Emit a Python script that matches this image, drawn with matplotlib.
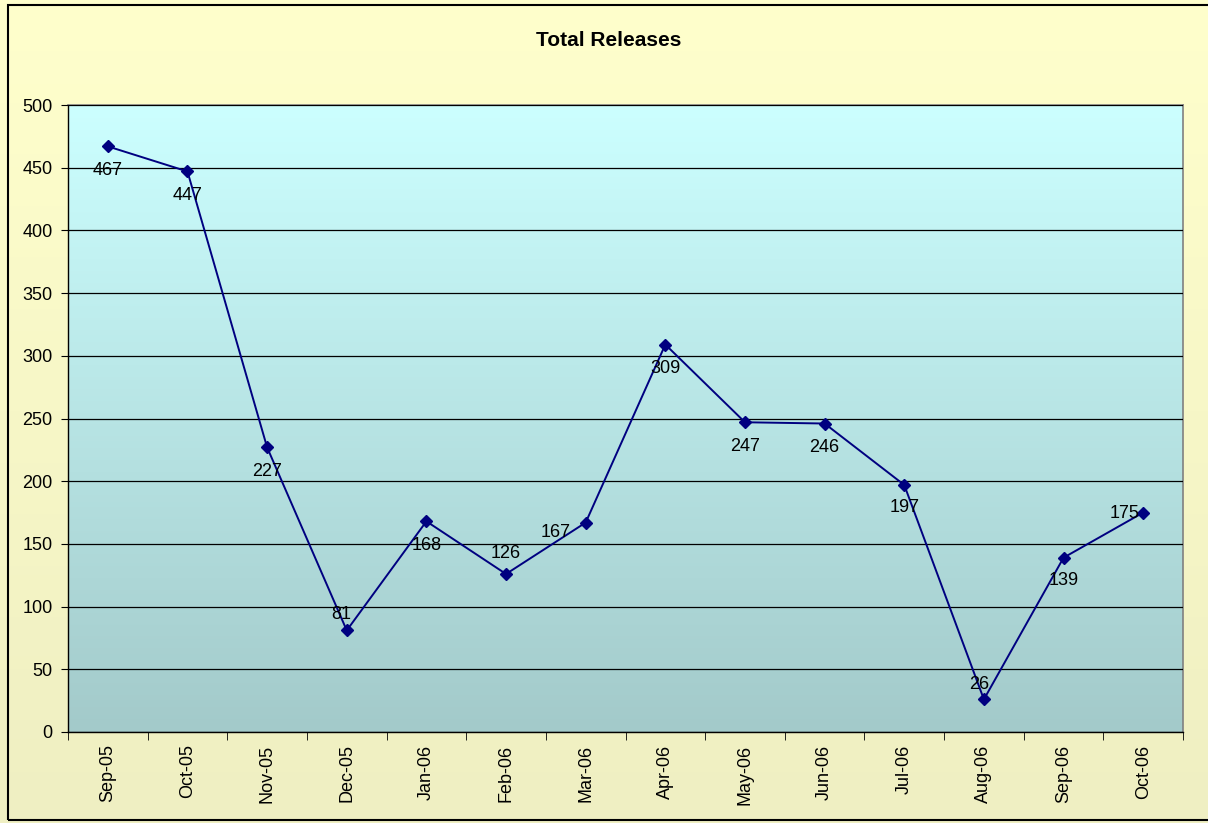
import numpy as np
import matplotlib
matplotlib.use("Agg")
import matplotlib.pyplot as plt
from matplotlib.patches import Rectangle
from matplotlib.colors import LinearSegmentedColormap

months = ["Sep-05", "Oct-05", "Nov-05", "Dec-05", "Jan-06", "Feb-06", "Mar-06",
          "Apr-06", "May-06", "Jun-06", "Jul-06", "Aug-06", "Sep-06", "Oct-06"]
releases = [467, 447, 227, 81, 168, 126, 167, 309, 247, 246, 197, 26, 139, 175]
yticks = [0, 50, 100, 150, 200, 250, 300, 350, 400, 450, 500]

# label placement (offsets in pixels from point to label centre)
label_offsets = {0: (0, -24), 1: (0, -24), 2: (0, -24), 3: (-5, 16), 4: (0, -24),
                 5: (0, 20), 6: (-30, -10), 7: (0, -24), 8: (0, -24), 9: (0, -24),
                 10: (0, -23), 11: (-5, 15), 12: (0, -23), 13: (-19, -1)}

plt.rcParams['font.family'] = ['Liberation Sans', 'DejaVu Sans']
W, H, DPI = 1208, 823, 100
fig = plt.figure(figsize=(W / DPI, H / DPI), dpi=DPI)

# figure background gradient
bg = fig.add_axes([0, 0, 1, 1], zorder=-10)
bg.set_axis_off()
bcmap = LinearSegmentedColormap.from_list("bg", ["#FFFFCC", "#EFEFC2"])
bg.imshow(np.linspace(0, 1, 256).reshape(-1, 1), aspect="auto", cmap=bcmap,
          extent=[0, 1, 0, 1], transform=bg.transAxes)
bg.set_xlim(0, 1); bg.set_ylim(0, 1)
# outer border
bg.add_patch(Rectangle((8 / W, (H - 820) / H), 1.0, (820 - 5) / H, fill=False,
                       edgecolor="black", linewidth=1.5, transform=bg.transAxes))

left, right, top, bottom = 68, 1183, 105, 732
ax = fig.add_axes([left / W, (H - bottom) / H, (right - left) / W, (bottom - top) / H])
pcmap = LinearSegmentedColormap.from_list("pa", ["#CCFFFF", "#A3CACA"])
ax.imshow(np.linspace(0, 1, 256).reshape(-1, 1), aspect="auto", cmap=pcmap,
          extent=[0, 1, 0, 1], transform=ax.transAxes, zorder=0)

x = np.arange(len(months))
ax.plot(x, releases, color="#000080", linewidth=1.4, marker="D", markersize=6,
        markerfacecolor="#000080", markeredgecolor="#000080", zorder=3, clip_on=False)

for i, v in enumerate(releases):
    dx, dy = label_offsets[i]
    ax.annotate(str(v), (x[i], v), xytext=(dx * 72 / DPI, dy * 72 / DPI),
                textcoords="offset points", ha="center", va="center",
                fontsize=13, color="black", zorder=4)

ax.set_xlim(-0.5, len(months) - 0.5)
ax.set_ylim(0, 500)
ax.set_yticks(yticks)
ax.set_yticklabels([str(t) for t in yticks], fontsize=13)
ax.yaxis.grid(True, color="black", linewidth=0.9)
ax.set_axisbelow(False)
for gl in ax.get_ygridlines():
    gl.set_zorder(1)

ax.set_xticks(x)
ax.set_xticklabels(months, rotation=90, fontsize=13)
ax.tick_params(axis="x", which="major", length=0, pad=9)
ax.set_xticks(np.arange(-0.5, len(months)), minor=True)
ax.tick_params(axis="x", which="minor", length=6, direction="out", color="black")
ax.tick_params(axis="y", length=5, direction="out", color="black", pad=6)

for s in ["top", "right"]:
    ax.spines[s].set_color("#808080")
    ax.spines[s].set_linewidth(1.2)
for s in ["left", "bottom"]:
    ax.spines[s].set_color("black")
    ax.spines[s].set_linewidth(1.0)

fig.text(609 / W, 1 - 41 / H, "Total Releases", ha="center", va="center",
         fontsize=15, fontweight="bold")

fig.savefig("out.png", dpi=DPI)
